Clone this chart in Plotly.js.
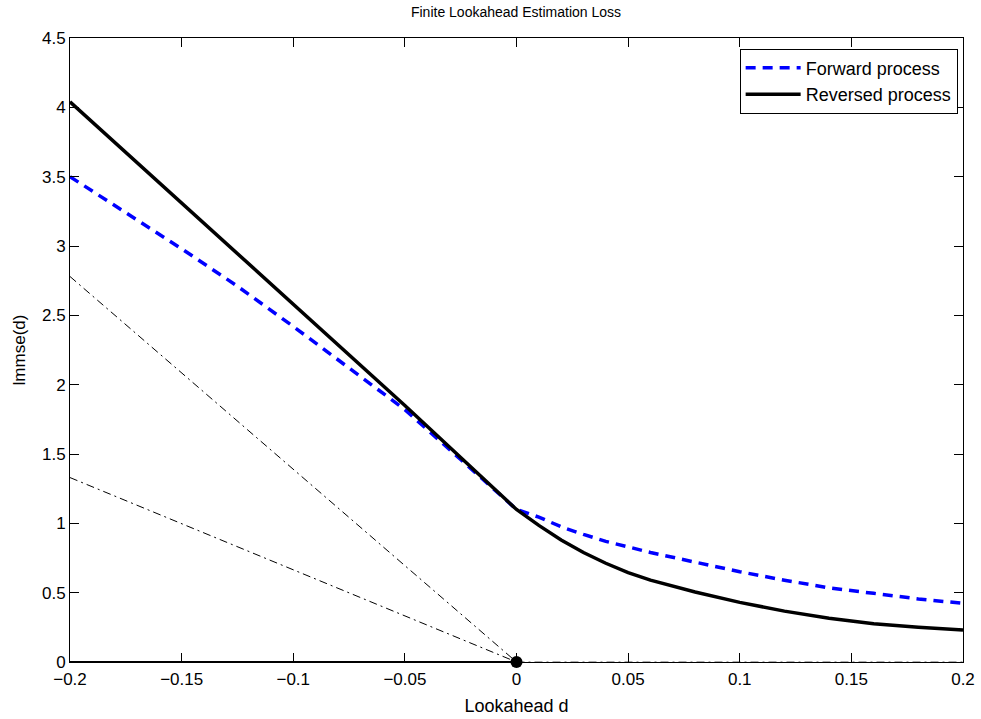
<!DOCTYPE html>
<html>
<head>
<meta charset="utf-8">
<script src="https://cdn.plot.ly/plotly-3.0.1.min.js"></script>
<style>html,body{margin:0;padding:0;background:#fff;}#chart{width:981px;height:719px;}</style>
</head>
<body>
<div id="chart"></div>
<script>
// Lookahead d values
const dNeg = [-0.2, -0.175, -0.15, -0.125, -0.1, -0.075, -0.05, -0.025, 0];
const dPos = [0, 0.01, 0.02, 0.03, 0.04, 0.05, 0.06, 0.08, 0.1, 0.12, 0.14, 0.16, 0.18, 0.2];

// Forward process (blue dashed)
const fwdNeg = [3.50, 3.24, 2.98, 2.71, 2.42, 2.12, 1.82, 1.46, 1.10];
const fwdPos = [1.10, 1.045, 0.975, 0.92, 0.87, 0.83, 0.79, 0.72, 0.651, 0.59, 0.535, 0.495, 0.455, 0.423];

// Reversed process (black solid)
const revNeg = [4.04, 3.675, 3.31, 2.945, 2.58, 2.215, 1.85, 1.475, 1.10];
const revPos = [1.10, 0.985, 0.88, 0.79, 0.712, 0.645, 0.59, 0.505, 0.43, 0.367, 0.315, 0.276, 0.25, 0.231];

// Reference dash-dot lines
const refD = [-0.2, 0];
const refUpper = [2.78, 0];
const refLower = [1.33, 0];
const zeroLeftD = [-0.2, 0];
const zeroRightD = [0, 0.2];
const zeroY = [0, 0];
const originD = [0];
const originY = [0];

const xTicks = [-0.2, -0.15, -0.1, -0.05, 0, 0.05, 0.1, 0.15, 0.2];
const xTickText = ['\u22120.2', '\u22120.15', '\u22120.1', '\u22120.05', '0', '0.05', '0.1', '0.15', '0.2'];
const yTicks = [0, 0.5, 1, 1.5, 2, 2.5, 3, 3.5, 4, 4.5];
const yTickText = ['0', '0.5', '1', '1.5', '2', '2.5', '3', '3.5', '4', '4.5'];

const font = 'Liberation Sans, Arial, Helvetica, sans-serif';
const dashDot = '8px,4px,2px,4px';

const traces = [
  {x: refD, y: refUpper, mode: 'lines', line: {color: '#000', width: 1, dash: dashDot}, showlegend: false, hoverinfo: 'skip'},
  {x: refD, y: refLower, mode: 'lines', line: {color: '#000', width: 1, dash: dashDot}, showlegend: false, hoverinfo: 'skip'},
  {x: zeroRightD, y: zeroY, mode: 'lines', line: {color: '#555', width: 1, dash: dashDot}, showlegend: false, hoverinfo: 'skip', cliponaxis: false},
  {x: zeroLeftD, y: zeroY, mode: 'lines', line: {color: '#000', width: 2}, showlegend: false, hoverinfo: 'skip', cliponaxis: false},
  {x: dNeg.concat(dPos.slice(1)), y: fwdNeg.concat(fwdPos.slice(1)), mode: 'lines', name: 'Forward process',
   line: {color: '#0000ff', width: 3.5, dash: '10px,7px'}},
  {x: dNeg.concat(dPos.slice(1)), y: revNeg.concat(revPos.slice(1)), mode: 'lines', name: 'Reversed process',
   line: {color: '#000', width: 3.5}},
  {x: originD, y: originY, mode: 'markers', marker: {color: '#000', size: 12, symbol: 'circle'}, showlegend: false, cliponaxis: false}
];

const layout = {
  width: 981, height: 719,
  margin: {l: 70, r: 18, t: 38, b: 57},
  paper_bgcolor: '#fff', plot_bgcolor: '#fff',
  font: {family: font, size: 17, color: '#000'},
  title: {text: 'Finite Lookahead Estimation Loss', font: {family: font, size: 14, color: '#000'}, x: 0.526, xanchor: 'center', y: 0.983, yanchor: 'middle'},
  xaxis: {
    range: [-0.2, 0.2], tickvals: xTicks, ticktext: xTickText,
    ticks: 'inside', ticklen: 9, tickwidth: 1, tickcolor: '#000',
    showline: true, linecolor: '#000', linewidth: 1, mirror: 'ticks',
    showgrid: false, zeroline: false, ticklabelstandoff: 2,
    tickfont: {family: font, size: 17, color: '#000'},
    title: {text: 'Lookahead d', font: {family: font, size: 18, color: '#000'}, standoff: 10}
  },
  yaxis: {
    range: [0, 4.5], tickvals: yTicks, ticktext: yTickText,
    ticks: 'inside', ticklen: 9, tickwidth: 1, tickcolor: '#000',
    showline: true, linecolor: '#000', linewidth: 1, mirror: 'ticks',
    showgrid: false, zeroline: false, ticklabelstandoff: 0,
    tickfont: {family: font, size: 17, color: '#000'},
    title: {text: 'lmmse(d)', font: {family: font, size: 17, color: '#000'}, standoff: 12}
  },
  legend: {
    x: 0.994, y: 0.983, xanchor: 'right', yanchor: 'top',
    bgcolor: '#fff', bordercolor: '#000', borderwidth: 1,
    font: {family: font, size: 18, color: '#000'},
    tracegroupgap: 0, itemwidth: 55
  },
  showlegend: true
};

Plotly.newPlot('chart', traces, layout, {displayModeBar: false, staticPlot: true});
</script>
</body>
</html>
